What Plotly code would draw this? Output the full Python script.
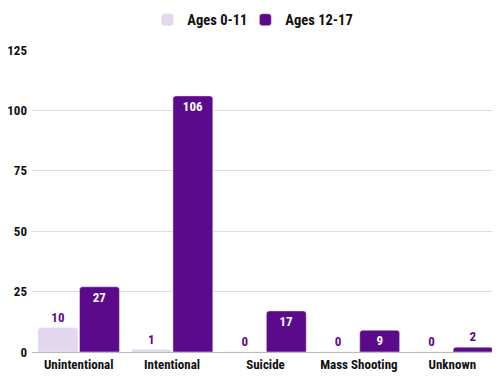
import plotly.graph_objects as go

categories = ["Unintentional", "Intentional", "Suicide", "Mass Shooting", "Unknown"]
ages_0_11 = [10, 1, 0, 0, 0]
ages_12_17 = [27, 106, 17, 9, 2]
y_ticks = [0, 25, 50, 75, 100, 125]

LIGHT = "#e3d7ee"
DARK = "#5c0a8c"
FONT = "Roboto Condensed, Roboto, sans-serif"

fig = go.Figure()
fig.add_trace(go.Bar(
    x=categories, y=ages_0_11, name="Ages 0-11",
    marker=dict(color=LIGHT, cornerradius=3),
    text=[str(v) for v in ages_0_11], textposition="outside",
    textfont=dict(color=DARK, size=13, family=FONT, weight="bold"),
    cliponaxis=False,
))
fig.add_trace(go.Bar(
    x=categories, y=ages_12_17, name="Ages 12-17",
    marker=dict(color=DARK, cornerradius=3),
    text=[str(v) for v in ages_12_17],
    textposition=["inside" if v >= 5 else "outside" for v in ages_12_17],
    insidetextanchor="end",
    textfont=dict(color=["white" if v >= 5 else DARK for v in ages_12_17], size=13, family=FONT, weight="bold"),
    cliponaxis=False,
))
# invisible spacer entry so the last real legend entry is not clipped
fig.add_trace(go.Scatter(
    x=[None], y=[None], name=" ", mode="markers",
    marker=dict(color="rgba(0,0,0,0)"), hoverinfo="skip",
))

fig.update_layout(
    width=492, height=370,
    margin=dict(l=24, r=1, t=42, b=26, autoexpand=False),
    paper_bgcolor="white", plot_bgcolor="white",
    barmode="group", bargap=0.11, bargroupgap=0.04,
    font=dict(family=FONT, size=13, color="#111", weight="bold"),
    legend=dict(orientation="h", x=0.247, xanchor="left", y=1.10, yanchor="middle",
                font=dict(size=14.5, family=FONT, weight="bold"), itemwidth=30,
                entrywidth=53, entrywidthmode="pixels", bgcolor="rgba(0,0,0,0)"),
)
fig.update_xaxes(tickfont=dict(size=13, family=FONT, weight="bold", color="#111"),
                 showline=True, linecolor="#bbbbbb", linewidth=1, ticks="", automargin=False)
fig.update_yaxes(range=[0, 125], tickvals=y_ticks, showgrid=True, gridcolor="#dddddd",
                 zeroline=True, zerolinecolor="#bbbbbb", zerolinewidth=1,
                 tickfont=dict(size=13, family=FONT, weight="bold", color="#111"),
                 ticklabelstandoff=4, automargin=False)

fig.write_html("out.html")
